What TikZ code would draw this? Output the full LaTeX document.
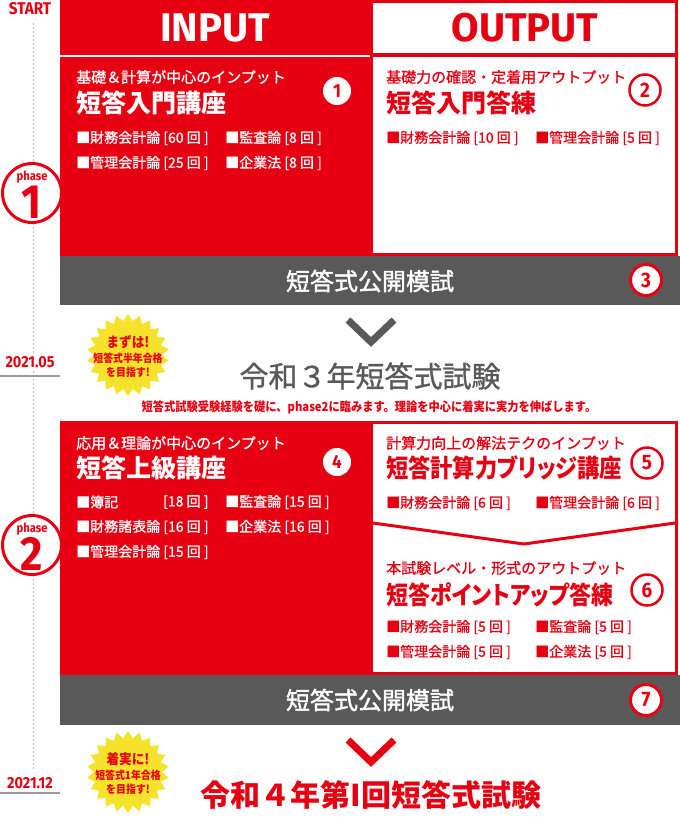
\documentclass[tikz,border=0pt]{standalone}
\usepackage{fontspec}
\setmainfont{Noto Sans CJK JP}
\newfontfamily\jp{Noto Sans CJK JP}
\newfontfamily\jpm[FakeBold=1.0]{Noto Sans CJK JP}
\newfontfamily\jpmm[FakeBold=1.6]{Noto Sans CJK JP}
\newfontfamily\jpp[RawFeature=+palt]{Noto Sans CJK JP}
\newfontfamily\jpc[FakeStretch=0.9]{Noto Sans CJK JP}
\newfontfamily\din[FakeStretch=0.9]{Fira Sans}
\newfontfamily\fira{Fira Sans}
\newcommand\fsz[1]{\fontsize{#1}{#1}\selectfont}
\usetikzlibrary{shapes.geometric}
\definecolor{jred}{HTML}{E60012}
\definecolor{dgray}{HTML}{595959}
\definecolor{sunyel}{HTML}{F6E22B}
\definecolor{tlgray}{HTML}{BBBBBB}
\definecolor{ulgray}{HTML}{999999}
\tikzset{
  sub/.style={anchor=west, inner sep=0pt, font=\jpm\fsz{15pt}},
  ttl/.style={anchor=west, inner sep=0pt, font=\jpp\bfseries\fsz{25pt}},
  itm/.style={anchor=west, inner sep=0pt, font=\jpm\fsz{14pt}},
  numw/.style={circle, fill=white, minimum size=28pt, inner sep=0pt, text=jred, font=\din\bfseries\fsz{19pt}},
  numr/.style={circle, draw=jred, line width=2.5pt, fill=white, minimum size=31pt, inner sep=0pt, text=jred, font=\din\bfseries\fsz{21pt}},
  numg/.style={circle, draw=jred, line width=3pt, fill=white, minimum size=31pt, inner sep=0pt, text=jred, font=\din\bfseries\fsz{21pt}},
  phasec/.style={circle, draw=jred, line width=3pt, fill=white, minimum size=59pt, inner sep=0pt},
  phasew/.style={inner sep=0pt, text=jred, font=\din\bfseries\fsz{12.5pt}},
  phasen/.style={inner sep=0pt, text=jred, font=\din\bfseries\fsz{48pt}},
  hdr/.style={inner sep=0pt, font=\fira\bfseries\fsz{40pt}},
  barlabel/.style={inner sep=0pt, text=white, font=\jpmm\fsz{24pt}},
  datelabel/.style={fill=white, inner sep=1pt, text=jred, font=\din\bfseries\fsz{16pt}},
  sunburst/.style={star, star points=22, star point ratio=1.2, minimum size=82pt, fill=sunyel, inner sep=0pt},
  sunbig/.style={inner sep=0pt, text=jred, font=\jpc\bfseries\fsz{14pt}},
  sunsmall/.style={inner sep=0pt, text=jred, font=\jpc\bfseries\fsz{11pt}},
  chev/.style={line width=7pt, miter limit=10},
  barfill/.style={fill=dgray},
}
\begin{document}
\begin{tikzpicture}[x=1pt, y=-1pt]
\path[use as bounding box, fill=white] (0,0) rectangle (680,825);

% timeline
\coordinate (tltop) at (33,23);
\coordinate (tlbot) at (33,770);
\draw[tlgray, line width=0.8pt, dash pattern=on 2pt off 2pt] (tltop) -- (tlbot);
\node[text=jred, inner sep=0pt, font=\din\bfseries\fsz{17pt}] (start) at (30,9) {START};

% ---------- phase 1 ----------
\fill[jred] (60,0) rectangle (370,55);
\fill[jred] (60,57) rectangle (370,256);
\fill[jred] (370,0) rectangle (678,256);
\fill[white] (373,3) rectangle (675,53);
\fill[white] (373,57) rectangle (675,253);
\node[hdr, text=white] (inputh) at (215,28) {INPUT};
\node[hdr, text=jred] (outputh) at (525,28) {OUTPUT};

\node[sub, text=white] (s1) at (76,77) {基礎＆計算が中心のインプット};
\node[ttl, text=white] (t1) at (76,103) {短答入門講座};
\node[numw] (n1) at (337,91) {1};
\node[itm, text=white] (i11) at (76,138) {■財務会計論 [60 回 ]};
\node[itm, text=white] (i12) at (225,138) {■監査論 [8 回 ]};
\node[itm, text=white] (i13) at (76,163) {■管理会計論 [25 回 ]};
\node[itm, text=white] (i14) at (225,163) {■企業法 [8 回 ]};

\node[sub, text=jred] (s2) at (386,77) {基礎力の確認・定着用アウトプット};
\node[ttl, text=jred] (t2) at (386,103) {短答入門答練};
\node[numr] (n2) at (645,90) {2};
\node[itm, text=jred] (i21) at (386,138) {■財務会計論 [10 回 ]};
\node[itm, text=jred] (i22) at (535,138) {■管理会計論 [5 回 ]};

\node[phasec] (ph1) at (32,193) {};
\node[phasew] (ph1w) at (32,177) {phase};
\node[phasen] (ph1n) at (32,202) {1};

% gray bar 1
\fill[barfill] (60,256) rectangle (680,305);
\node[barlabel] (bar1) at (370,281) {短答式公開模試};
\node[numg] (n3) at (646,280) {3};

% exam 1
\coordinate (c1a) at (348,320);
\coordinate (c1b) at (371,342);
\coordinate (c1c) at (394,320);
\draw[chev, dgray] (c1a) -- (c1b) -- (c1c);
\node[sunburst] (sb1) at (128,355) {};
\node[sunbig] (sb1a) at (128,342) {まずは!};
\node[sunsmall] (sb1b) at (128,358) {短答式半年合格};
\node[sunsmall] (sb1c) at (128,372) {を目指す!};
\coordinate (ul1a) at (0,376);
\coordinate (ul1b) at (60,376);
\draw[ulgray, line width=2pt] (ul1a) -- (ul1b);
\node[datelabel] (d1) at (30,362) {2021.05};
\node[inner sep=0pt, text=dgray, font=\jpm\fsz{29pt}] (ex1) at (370,376) {令和３年短答式試験};
\node[inner sep=0pt, text=jred, font=\jpc\bfseries\fsz{12.5pt}] (note) at (369,407) {短答式試験受験経験を礎に、phase2に臨みます。理論を中心に着実に実力を伸ばします。};

% ---------- phase 2 ----------
\fill[jred] (60,421) rectangle (370,675);
\fill[jred] (370,421) rectangle (678,675);
\fill[white] (373,424) rectangle (675,672);
\coordinate (va) at (373,523);
\coordinate (vb) at (524,544);
\coordinate (vc) at (675,523);
\draw[jred, line width=3pt] (va) -- (vb) -- (vc);

\node[sub, text=white] (s4) at (76,443) {応用＆理論が中心のインプット};
\node[ttl, text=white] (t4) at (76,468) {短答上級講座};
\node[numw] (n4) at (337,462) {4};
\node[itm, text=white] (i41) at (76,502) {■簿記};
\node[itm, text=white] (i41b) at (163,502) {[18 回 ]};
\node[itm, text=white] (i42) at (225,502) {■監査論 [15 回 ]};
\node[itm, text=white] (i43) at (76,527) {■財務諸表論 [16 回 ]};
\node[itm, text=white] (i44) at (225,527) {■企業法 [16 回 ]};
\node[itm, text=white] (i45) at (76,552) {■管理会計論 [15 回 ]};

\node[sub, text=jred] (s5) at (386,443) {計算力向上の解法テクのインプット};
\node[ttl, text=jred] (t5) at (386,468) {\scalebox{0.89}[1]{短答計算力ブリッジ講座}};
\node[numr] (n5) at (647,463) {5};
\node[itm, text=jred] (i51) at (386,503) {■財務会計論 [6 回 ]};
\node[itm, text=jred] (i52) at (535,503) {■管理会計論 [6 回 ]};

\node[sub, text=jred] (s6) at (386,568) {本試験レベル・形式のアウトプット};
\node[ttl, text=jred] (t6) at (386,595) {\scalebox{0.88}[1]{短答ポイントアップ答練}};
\node[numr] (n6) at (647,590) {6};
\node[itm, text=jred] (i61) at (386,627) {■財務会計論 [5 回 ]};
\node[itm, text=jred] (i62) at (535,627) {■監査論 [5 回 ]};
\node[itm, text=jred] (i63) at (386,652) {■管理会計論 [5 回 ]};
\node[itm, text=jred] (i64) at (535,652) {■企業法 [5 回 ]};

\node[phasec] (ph2) at (32,545) {};
\node[phasew] (ph2w) at (32,529) {phase};
\node[phasen] (ph2n) at (32,554) {2};

% gray bar 2
\fill[barfill] (60,675) rectangle (680,725);
\node[barlabel] (bar2) at (370,700) {短答式公開模試};
\node[numg] (n7) at (646,700) {7};

% exam 2
\coordinate (c2a) at (348,740);
\coordinate (c2b) at (371,762);
\coordinate (c2c) at (394,740);
\draw[chev, jred] (c2a) -- (c2b) -- (c2c);
\node[sunburst] (sb2) at (128,772) {};
\node[sunbig] (sb2a) at (128,759) {着実に!};
\node[sunsmall] (sb2b) at (128,775) {短答式1年合格};
\node[sunsmall] (sb2c) at (128,789) {を目指す!};
\coordinate (ul2a) at (0,793);
\coordinate (ul2b) at (60,793);
\draw[ulgray, line width=2pt] (ul2a) -- (ul2b);
\node[datelabel] (d2) at (30,783) {2021.12};
\node[inner sep=0pt, text=jred, font=\jp\bfseries\fsz{30pt}] (ex2) at (371,795) {令和４年第I回短答式試験};
\end{tikzpicture}
\end{document}
